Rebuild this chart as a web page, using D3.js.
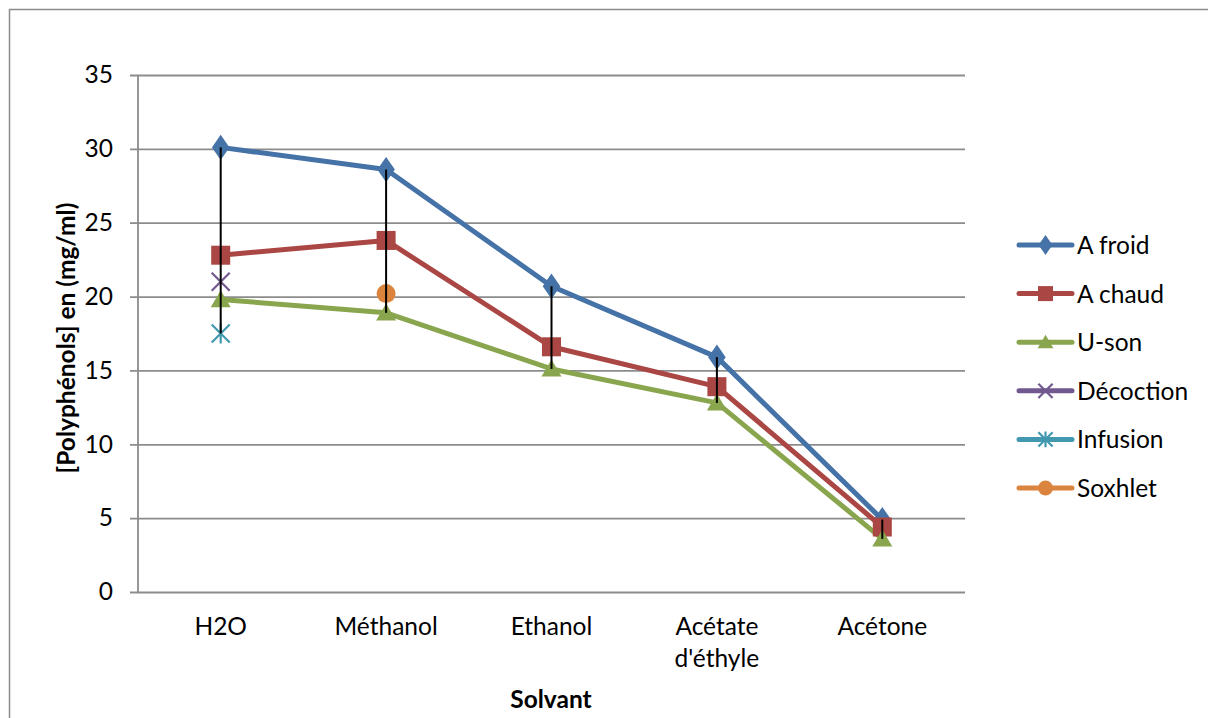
<!DOCTYPE html>
<html>
<head>
<meta charset="utf-8">
<script src="https://cdn.jsdelivr.net/npm/d3@7"></script>
<style>
  html, body { margin: 0; padding: 0; background: #fff; }
  svg { display: block; }
  text { font-family: Lato, "Open Sans", sans-serif; fill: #000; }
</style>
</head>
<body>
<svg id="chart" width="1208" height="718"></svg>
<script>
// Solvents on the category axis ("\n" splits a label over two lines)
const categories = ["H2O", "Méthanol", "Ethanol", "Acétate\nd'éthyle", "Acétone"];

// Polyphenol concentration (mg/ml) per extraction method
const aFroid    = [30.1, 28.6, 20.7, 15.9, 4.9];
const aChaud    = [22.8, 23.8, 16.6, 13.9, 4.4];
const uSon      = [19.8, 18.9, 15.1, 12.8, 3.6];
const decoction = [21.0, null, null, null, null];
const infusion  = [17.5, null, null, null, null];
const soxhlet   = [null, 20.2, null, null, null];

const seriesNames = ["A froid", "A chaud", "U-son", "Décoction", "Infusion", "Soxhlet"];
const yTicks = [0, 5, 10, 15, 20, 25, 30, 35];

const axisTitleX = "Solvant";
const axisTitleY = "[Polyphénols] en (mg/ml)";

const series = [
  { name: seriesNames[0], values: aFroid,    color: "#4572A7", marker: "diamond" },
  { name: seriesNames[1], values: aChaud,    color: "#AA4643", marker: "square" },
  { name: seriesNames[2], values: uSon,      color: "#89A54E", marker: "triangle" },
  { name: seriesNames[3], values: decoction, color: "#71588F", marker: "cross" },
  { name: seriesNames[4], values: infusion,  color: "#4198AF", marker: "star" },
  { name: seriesNames[5], values: soxhlet,   color: "#DB843D", marker: "circle" }
];

const FS = 24.5;
const svg = d3.select("#chart");
const plot = { left: 138, right: 965, top: 75, bottom: 592 };

// outer chart frame (runs past the right and bottom edges)
svg.append("rect")
  .attr("x", 9.5).attr("y", 9.5)
  .attr("width", 1300).attr("height", 800)
  .attr("fill", "none").attr("stroke", "#8c8c8c").attr("stroke-width", 1.5);

const x = d3.scaleBand().domain(categories).range([plot.left, plot.right]);
const y = d3.scaleLinear().domain([0, 35]).range([plot.bottom, plot.top]);
const cx = c => x(c) + x.bandwidth() / 2;

// horizontal gridlines with short ticks on the left
const yAxis = d3.axisLeft(y).tickValues(yTicks)
  .tickSize(-(plot.right - plot.left)).tickPadding(25);
const gy = svg.append("g").attr("transform", `translate(${plot.left},0)`).call(yAxis);
gy.select(".domain").remove();
gy.selectAll(".tick line")
  .attr("x1", -8)
  .attr("stroke", "#8c8c8c").attr("stroke-width", 1.8);
gy.selectAll(".tick text")
  .attr("font-size", FS).attr("font-family", "Lato, sans-serif").attr("fill", "#000");

// vertical axis line
svg.append("line")
  .attr("x1", plot.left).attr("x2", plot.left)
  .attr("y1", y(35)).attr("y2", y(0))
  .attr("stroke", "#8c8c8c").attr("stroke-width", 1.8);

// category labels
const xl = svg.append("g");
categories.forEach(c => {
  const lines = c.split("\n");
  const t = xl.append("text")
    .attr("x", cx(c)).attr("y", 635)
    .attr("text-anchor", "middle").attr("font-size", FS);
  lines.forEach((ln, i) => {
    t.append("tspan").attr("x", cx(c)).attr("dy", i === 0 ? 0 : 32).text(ln);
  });
});

// axis titles
svg.append("text")
  .attr("x", 551).attr("y", 708)
  .attr("text-anchor", "middle").attr("font-size", FS).attr("font-weight", "bold")
  .text(axisTitleX);
svg.append("text")
  .attr("transform", "translate(75,338) rotate(-90)")
  .attr("text-anchor", "middle").attr("font-size", FS).attr("font-weight", "bold")
  .text(axisTitleY);

// marker shapes
function drawMarker(g, type, color, px, py, s) {
  const sc = s / 19;
  if (type === "diamond") {
    g.append("path").attr("d", d3.symbol(d3.symbolDiamond, 185 * sc * sc)())
      .attr("transform", `translate(${px},${py}) scale(1.2,1)`).attr("fill", color);
  } else if (type === "square") {
    g.append("rect").attr("x", px - 9.5 * sc).attr("y", py - 9.5 * sc)
      .attr("width", 19 * sc).attr("height", 19 * sc).attr("fill", color);
  } else if (type === "triangle") {
    const w = 10 * sc, h = 17 * sc;
    g.append("path")
      .attr("d", `M${px},${py - h * 0.55}L${px + w},${py + h * 0.45}L${px - w},${py + h * 0.45}Z`)
      .attr("fill", color);
  } else if (type === "cross") {
    const r = 9 * sc;
    g.append("path")
      .attr("d", `M${px - r},${py - r}L${px + r},${py + r}M${px - r},${py + r}L${px + r},${py - r}`)
      .attr("stroke", color).attr("stroke-width", 2.2).attr("fill", "none");
  } else if (type === "star") {
    const r = 9 * sc;
    g.append("path")
      .attr("d", `M${px - r},${py - r}L${px + r},${py + r}M${px - r},${py + r}L${px + r},${py - r}M${px},${py - r * 1.1}L${px},${py + r * 1.1}`)
      .attr("stroke", color).attr("stroke-width", 2.2).attr("fill", "none");
  } else if (type === "circle") {
    g.append("circle").attr("cx", px).attr("cy", py).attr("r", 9.5 * sc).attr("fill", color);
  }
}

// series lines
const line = d3.line()
  .defined(d => d.v != null)
  .x(d => cx(d.c)).y(d => y(d.v));

const gs = svg.append("g");
series.forEach(s => {
  const pts = categories.map((c, i) => ({ c, v: s.values[i] }));
  gs.append("path").datum(pts)
    .attr("d", line)
    .attr("fill", "none").attr("stroke", s.color)
    .attr("stroke-width", 5).attr("stroke-linejoin", "round");
});
series.forEach(s => {
  categories.forEach((c, i) => {
    const v = s.values[i];
    if (v != null) drawMarker(gs, s.marker, s.color, cx(c), y(v), 19);
  });
});

// high-low lines across all series at each solvent
const hl = svg.append("g");
categories.forEach((c, i) => {
  const vals = series.map(s => s.values[i]).filter(v => v != null);
  hl.append("line")
    .attr("x1", cx(c)).attr("x2", cx(c))
    .attr("y1", y(d3.max(vals))).attr("y2", y(d3.min(vals)))
    .attr("stroke", "#000").attr("stroke-width", 2);
});

// legend
const lg = svg.append("g");
series.forEach((s, i) => {
  const ly = 245 + i * 48.6;
  lg.append("line").attr("x1", 1019).attr("x2", 1072).attr("y1", ly).attr("y2", ly)
    .attr("stroke", s.color).attr("stroke-width", 5).attr("stroke-linecap", "round");
  drawMarker(lg, s.marker, s.color, 1045.5, ly, 15);
  lg.append("text").attr("x", 1077).attr("y", ly + 9)
    .attr("font-size", FS).text(s.name);
});
</script>
</body>
</html>
